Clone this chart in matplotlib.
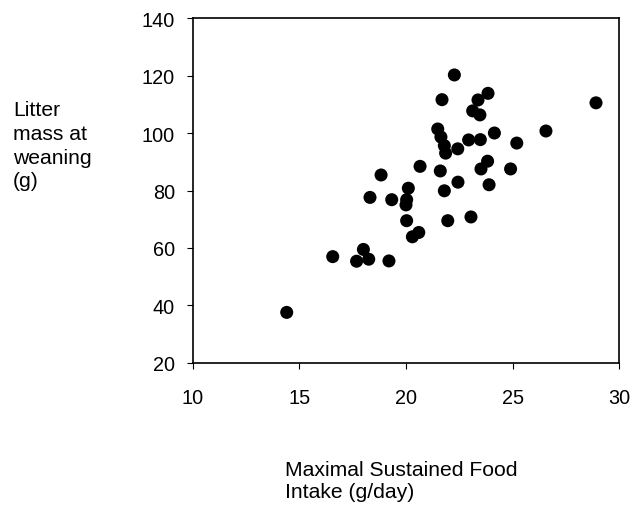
import matplotlib.pyplot as plt

plt.rcParams['font.family'] = ['Liberation Sans', 'DejaVu Sans']

# food intake (g/day) vs litter mass at weaning (g)
intake = [22.27, 21.69, 23.85, 23.38, 23.13, 23.47, 28.92, 21.49, 21.64, 21.80,
          21.86, 22.43, 22.94, 23.49, 24.15, 25.20, 26.57, 20.66, 18.83, 21.61,
          23.83, 23.52, 24.91, 22.44, 23.90, 21.80, 20.11, 18.31, 19.33, 20.03,
          20.00, 20.03, 21.96, 23.05, 20.60, 20.30, 16.56, 18.00, 17.68, 18.25,
          19.20, 14.40]
litter_mass = [120.2, 111.6, 113.8, 111.5, 107.7, 106.3, 110.5, 101.4, 98.6, 95.6,
               93.0, 94.5, 97.6, 97.7, 100.0, 96.5, 100.7, 88.4, 85.4, 86.8,
               90.2, 87.5, 87.5, 82.9, 82.0, 79.9, 80.8, 77.6, 76.8, 76.8,
               75.0, 69.5, 69.5, 70.8, 65.4, 63.9, 57.0, 59.5, 55.4, 56.1,
               55.5, 37.6]

xticks = [10, 15, 20, 25, 30]
yticks = [20, 40, 60, 80, 100, 120, 140]

fig = plt.figure(figsize=(6.42, 5.10), dpi=100)
ax = fig.add_axes([0.3006, 0.2863, 0.6636, 0.6764])

ax.scatter(intake, litter_mass, s=88, c='black', edgecolors='none', zorder=3)

ax.set_xlim(10, 30)
ax.set_ylim(20, 140)
ax.set_xticks(xticks)
ax.set_yticks(yticks)
ax.tick_params(axis='both', direction='out', length=4, width=0.8, labelsize=14.3)
ax.tick_params(axis='x', pad=14)
ax.tick_params(axis='y', pad=9)
for sp in ax.spines.values():
    sp.set_linewidth(1.2)
    sp.set_color('black')

# axis titles sit off to the side, like the original
fig.text(13 / 642, 1 - 101 / 510, "Litter\nmass at\nweaning\n(g)",
         ha='left', va='top', fontsize=15.2, linespacing=1.32)
fig.text(285 / 642, 1 - 461 / 510, "Maximal Sustained Food\nIntake (g/day)",
         ha='left', va='top', fontsize=15.2, linespacing=1.19)

fig.savefig('out.png', dpi=100)
